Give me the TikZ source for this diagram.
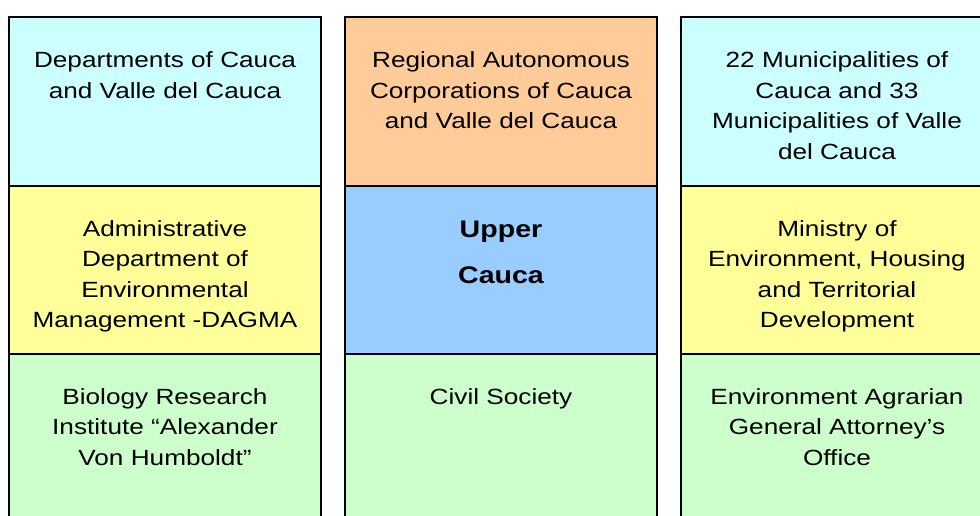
\documentclass[tikz,border=0pt]{standalone}
\usepackage{fontspec}
\setmainfont{Liberation Sans}[FakeStretch=1.19]
\definecolor{ccyan}{HTML}{CCFFFF}
\definecolor{corange}{HTML}{FFCC99}
\definecolor{cyellow}{HTML}{FFFF99}
\definecolor{cblue}{HTML}{99CCFF}
\definecolor{cgreen}{HTML}{CCFFCC}
\tikzset{
  cell/.style={draw=black, line width=2pt},
  txt/.style={anchor=base, align=center, inner sep=0pt, font=\fontsize{22}{30.5}\selectfont},
  btxt/.style={txt, font=\fontsize{24}{46}\selectfont\bfseries}
}
\begin{document}
\begin{tikzpicture}[x=1pt,y=-1pt]
\useasboundingbox (0,0) rectangle (980,516);
\clip (0,0) rectangle (980,516);
% left column
\filldraw[cell, fill=ccyan]   (9,17)  rectangle (321,186);
\filldraw[cell, fill=cyellow] (9,186) rectangle (321,354);
\filldraw[cell, fill=cgreen]  (9,354) rectangle (321,540);
% middle column
\filldraw[cell, fill=corange] (345,17)  rectangle (657,186);
\filldraw[cell, fill=cblue]   (345,186) rectangle (657,354);
\filldraw[cell, fill=cgreen]  (345,354) rectangle (657,540);
% right column
\filldraw[cell, fill=ccyan]   (681,17)  rectangle (993,186);
\filldraw[cell, fill=cyellow] (681,186) rectangle (993,354);
\filldraw[cell, fill=cgreen]  (681,354) rectangle (993,540);
% texts (base anchor = baseline of last line)
\node[txt] (l1) at (165,98.5) {Departments of Cauca\\and Valle del Cauca};
\node[txt] (l2) at (165,327.5) {Administrative\\Department of\\Environmental\\Management -DAGMA};
\node[txt] (l3) at (165,465) {Biology Research\\Institute “Alexander\\Von Humboldt”};
\node[txt] (m1) at (501,129) {Regional Autonomous\\Corporations of Cauca\\and Valle del Cauca};
\node[btxt] (m2) at (501,283) {Upper\\Cauca};
\node[txt] (m3) at (501,404) {Civil Society};
\node[txt] (r1) at (837,159.5) {22 Municipalities of\\Cauca and 33\\Municipalities of Valle\\del Cauca};
\node[txt] (r2) at (837,327.5) {Ministry of\\Environment, Housing\\and Territorial\\Development};
\node[txt] (r3) at (837,465) {Environment Agrarian\\General Attorney’s\\Office};
\end{tikzpicture}
\end{document}
